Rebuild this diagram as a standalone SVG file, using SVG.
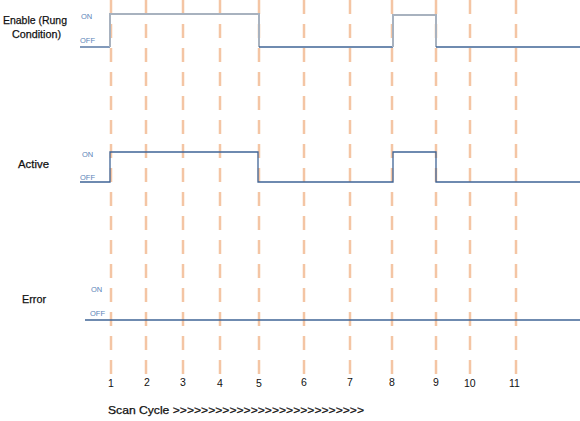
<svg xmlns="http://www.w3.org/2000/svg" width="580" height="421" viewBox="0 0 580 421">
<style>
.grid{stroke:#f4c5a4;stroke-width:2.5;stroke-dasharray:14 10;fill:none}
.sig{fill:none;stroke:#3f6496;stroke-width:1.3}
.sigl{fill:none;stroke:#a8b2bf;stroke-width:2}
.lab{font-family:"Liberation Sans",Arial,sans-serif;font-size:11px;fill:#111;stroke:#111;stroke-width:0.25}
.st{font-family:"Liberation Sans",Arial,sans-serif;font-size:7.5px;fill:#5a84b8}
.num{font-family:"Liberation Sans",Arial,sans-serif;font-size:10.5px;fill:#111}
</style>
<rect width="580" height="421" fill="#fff"/>
<g id="connectors">
<g id="grid">
<line class="grid" x1="111" y1="0" x2="111" y2="376"/>
<line class="grid" x1="146" y1="0" x2="146" y2="376"/>
<line class="grid" x1="183" y1="0" x2="183" y2="376"/>
<line class="grid" x1="220" y1="0" x2="220" y2="376"/>
<line class="grid" x1="259" y1="0" x2="259" y2="376"/>
<line class="grid" x1="304" y1="0" x2="304" y2="376"/>
<line class="grid" x1="350" y1="0" x2="350" y2="376"/>
<line class="grid" x1="392" y1="0" x2="392" y2="376"/>
<line class="grid" x1="436" y1="0" x2="436" y2="376"/>
<line class="grid" x1="470" y1="0" x2="470" y2="376"/>
<line class="grid" x1="516" y1="0" x2="516" y2="376"/>
</g>
<g id="enable-signal">
<path class="sig" d="M80 47 H110"/>
<path class="sigl" d="M110 47 V14 H259 V47"/>
<path class="sig" d="M259 47 H393"/>
<path class="sigl" d="M393 47 V15 H436 V47"/>
<path class="sig" d="M436 47 H580"/>
</g>
<g id="active-signal">
<path class="sig" d="M80 182 H110 V152 H258 V182 H393 V152 H436 V182 H580"/>
</g>
<g id="error-signal">
<path class="sig" d="M85 320 H580"/>
</g>
</g>
<g id="enable">
<text class="lab" x="3" y="24" textLength="64" lengthAdjust="spacingAndGlyphs">Enable (Rung</text>
<text class="lab" x="12" y="38" textLength="49" lengthAdjust="spacingAndGlyphs">Condition)</text>
<text class="st" x="81" y="19">ON</text>
<text class="st" x="80" y="43">OFF</text>
</g>
<g id="active">
<text class="lab" x="18" y="168" textLength="31" lengthAdjust="spacingAndGlyphs">Active</text>
</g>
<g id="active-states">
<text class="st" x="82" y="157">ON</text>
<text class="st" x="80" y="180">OFF</text>
</g>
<g id="error">
<text class="lab" x="22" y="303" textLength="24" lengthAdjust="spacingAndGlyphs">Error</text>
<text class="st" x="91" y="292">ON</text>
<text class="st" x="90" y="316">OFF</text>
</g>
<g id="scan-axis">
<text class="num" x="108" y="387">1</text>
<text class="num" x="144" y="386">2</text>
<text class="num" x="180" y="386">3</text>
<text class="num" x="217" y="387">4</text>
<text class="num" x="256" y="387">5</text>
<text class="num" x="301" y="386">6</text>
<text class="num" x="347" y="386">7</text>
<text class="num" x="389" y="386">8</text>
<text class="num" x="433" y="386">9</text>
<text class="num" x="464" y="387">10</text>
<text class="num" x="509" y="387">11</text>
<text class="lab" x="108" y="414" textLength="256" lengthAdjust="spacingAndGlyphs">Scan Cycle &gt;&gt;&gt;&gt;&gt;&gt;&gt;&gt;&gt;&gt;&gt;&gt;&gt;&gt;&gt;&gt;&gt;&gt;&gt;&gt;&gt;&gt;&gt;&gt;&gt;&gt;&gt;</text>
</g>
</svg>
